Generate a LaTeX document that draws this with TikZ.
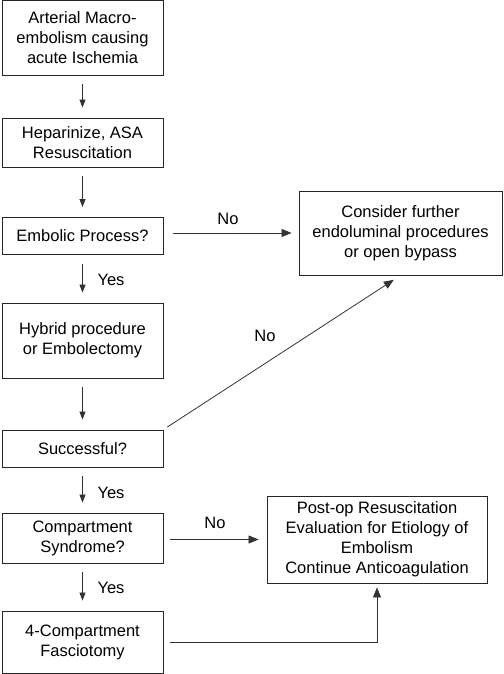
\documentclass[tikz,border=0pt]{standalone}
\usepackage{fontspec}
\setmainfont{Liberation Sans}
\usetikzlibrary{arrows.meta}

\begin{document}
\begin{tikzpicture}[x=1pt,y=-1pt,
    every node/.style={font=\fontsize{16.5}{20}\selectfont},
    box/.style={draw=black!85,line width=0.9pt,align=center,inner sep=0pt},
    lbox/.style={box,minimum width=161pt},
    varrow/.style={line width=0.8pt,draw=black!80,-{Triangle[length=8pt,width=6pt]},shorten <=9pt,shorten >=10pt},
    harrow/.style={line width=0.8pt,draw=black!80,-{Triangle[length=10pt,width=8pt]}}]
  \useasboundingbox (0,0) rectangle (503,674);
  % left column
  \node[lbox,minimum height=75pt] (art) at (82.5,37.5) {Arterial Macro-\\embolism causing\\acute Ischemia};
  \node[lbox,minimum height=49pt] (hep) at (82.5,142.5) {Heparinize, ASA\\Resuscitation};
  \node[lbox,minimum height=37pt] (emb) at (82.5,236) {Embolic Process?};
  \node[lbox,minimum height=75pt] (hyb) at (82.5,340.5) {Hybrid procedure\\or Embolectomy};
  \node[lbox,minimum height=37pt] (suc) at (82.5,448.5) {Successful?};
  \node[lbox,minimum height=50pt] (cmp) at (82.5,538) {Compartment\\Syndrome?};
  \node[lbox,minimum height=62pt] (fas) at (82.5,642) {4-Compartment\\Fasciotomy};
  % right column
  \node[box,minimum width=203pt,minimum height=84pt] (con) at (400.5,233) {Consider further\\endoluminal procedures\\or open bypass};
  \node[box,minimum width=220pt,minimum height=87pt] (post) at (377,539.5) {Post-op Resuscitation\\Evaluation for Etiology of\\Embolism\\Continue Anticoagulation};
  % connectors
  \foreach \a/\b in {art/hep,hep/emb,emb/hyb,hyb/suc,suc/cmp,cmp/fas}
    \draw[varrow] (\a.south) -- (\b.north);
  \draw[harrow,shorten <=10pt,shorten >=7pt] (emb.east |- con.west) -- (con.west);
  \draw[harrow,shorten <=4.5pt,shorten >=8pt] (suc.north east) -- (con.south);
  \draw[harrow,shorten <=7pt,shorten >=8pt] (cmp.east |- post.west) -- (post.west);
  \draw[harrow,shorten <=7pt,shorten >=4pt] (fas.east) -| (post.south);
  % labels
  \node (no1) at (228,219) {No};
  \node (yes1) at (111,280) {Yes};
  \node (no2) at (265,336) {No};
  \node (yes2) at (111,493) {Yes};
  \node (no3) at (215,523) {No};
  \node (yes3) at (111,588) {Yes};
\end{tikzpicture}
\end{document}
